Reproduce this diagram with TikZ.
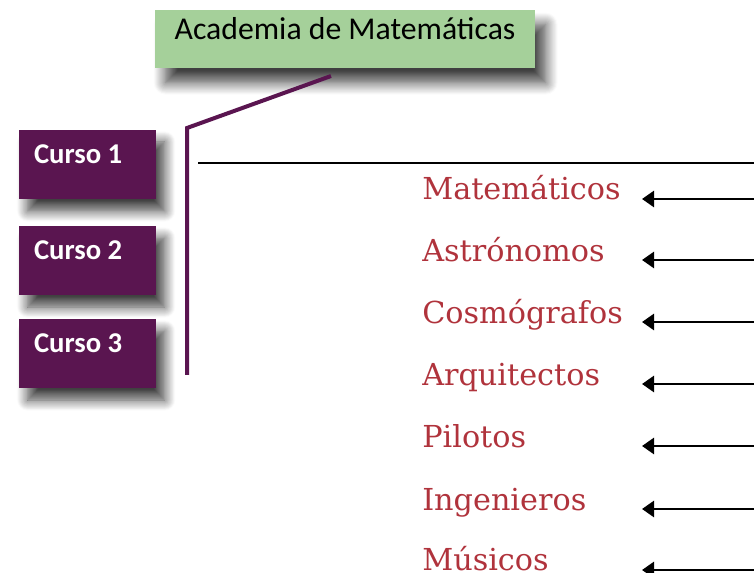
\documentclass[tikz,border=0pt]{standalone}
\usepackage{fontspec}
\newfontfamily\carlito{Carlito}
\newfontfamily\dvserif{DejaVu Serif}
\usetikzlibrary{shadows.blur,arrows.meta}
\definecolor{acgreen}{HTML}{A5D09A}
\definecolor{cpurple}{HTML}{5A1550}
\definecolor{lred}{HTML}{B0333C}
\begin{document}
\begin{tikzpicture}[x=0.75pt,y=-0.75pt,
  greenbox/.style={fill=acgreen, draw=none, minimum width=285pt, minimum height=43.5pt, inner sep=0pt,
    blur shadow={shadow xshift=8pt, shadow yshift=-11pt, shadow blur radius=9pt, shadow blur steps=12, shadow opacity=75}},
  cursobox/.style={fill=cpurple, draw=none, minimum width=102.75pt, minimum height=51.75pt, inner sep=0pt,
    blur shadow={shadow xshift=6.5pt, shadow yshift=-9pt, shadow blur radius=8pt, shadow blur steps=12, shadow opacity=75}},
  cursotext/.style={font=\carlito\bfseries\fontsize{21.5}{25}\selectfont, text=white, inner sep=0pt, anchor=base west},
  titletext/.style={font=\carlito\fontsize{23.8}{28}\selectfont, text=black, inner sep=0pt, anchor=base},
  proftext/.style={font=\dvserif\fontsize{22.7}{27}\selectfont, text=lred, inner sep=0pt, anchor=base west},
  purpleline/.style={draw=cpurple, line width=3pt, line join=miter},
  blackline/.style={draw=black, line width=2pt},
  proarrow/.style={draw=black, line width=2pt, -{Triangle[length=9pt,width=12pt]}}
]
\useasboundingbox (0,0) rectangle (754,573);

% title
\node[greenbox] (acad) at (345,39) {};
\node[titletext] (acadt) at (345,40) {Academia de Matemáticas};

% cursos
\node[cursobox] (c1) at (87.5,164.5) {};
\node[cursobox] (c2) at (87.5,260.5) {};
\node[cursobox] (c3) at (87.5,353.5) {};
\node[cursotext] (c1t) at ([shift={(15,34)}]c1.north west) {Curso 1};
\node[cursotext] (c2t) at ([shift={(15,34)}]c2.north west) {Curso 2};
\node[cursotext] (c3t) at ([shift={(15,34)}]c3.north west) {Curso 3};

% purple bracket
\coordinate (p1) at (331,76);
\coordinate (p2) at (187,128);
\coordinate (p3) at (187,375);
\draw[purpleline] (p1) -- (p2) -- (p3);

% black line
\coordinate (b1) at (198,163);
\coordinate (b2) at (754,163);
\draw[blackline] (b1) -- (b2);

% professions
\foreach \n/\t/\yb/\ya in {1/Matemáticos/200/199, 2/Astrónomos/262/260, 3/Cosmógrafos/324/322, 4/Arquitectos/386/384, 5/Pilotos/448/446, 6/Ingenieros/511/509, 7/Músicos/571/570}{
  \node[proftext] (prof\n) at (422,\yb) {\t};
  \coordinate (rs\n) at (754,\ya);
  \coordinate (re\n) at (642,\ya);
  \draw[proarrow] (rs\n) -- (re\n);
}
\end{tikzpicture}
\end{document}
